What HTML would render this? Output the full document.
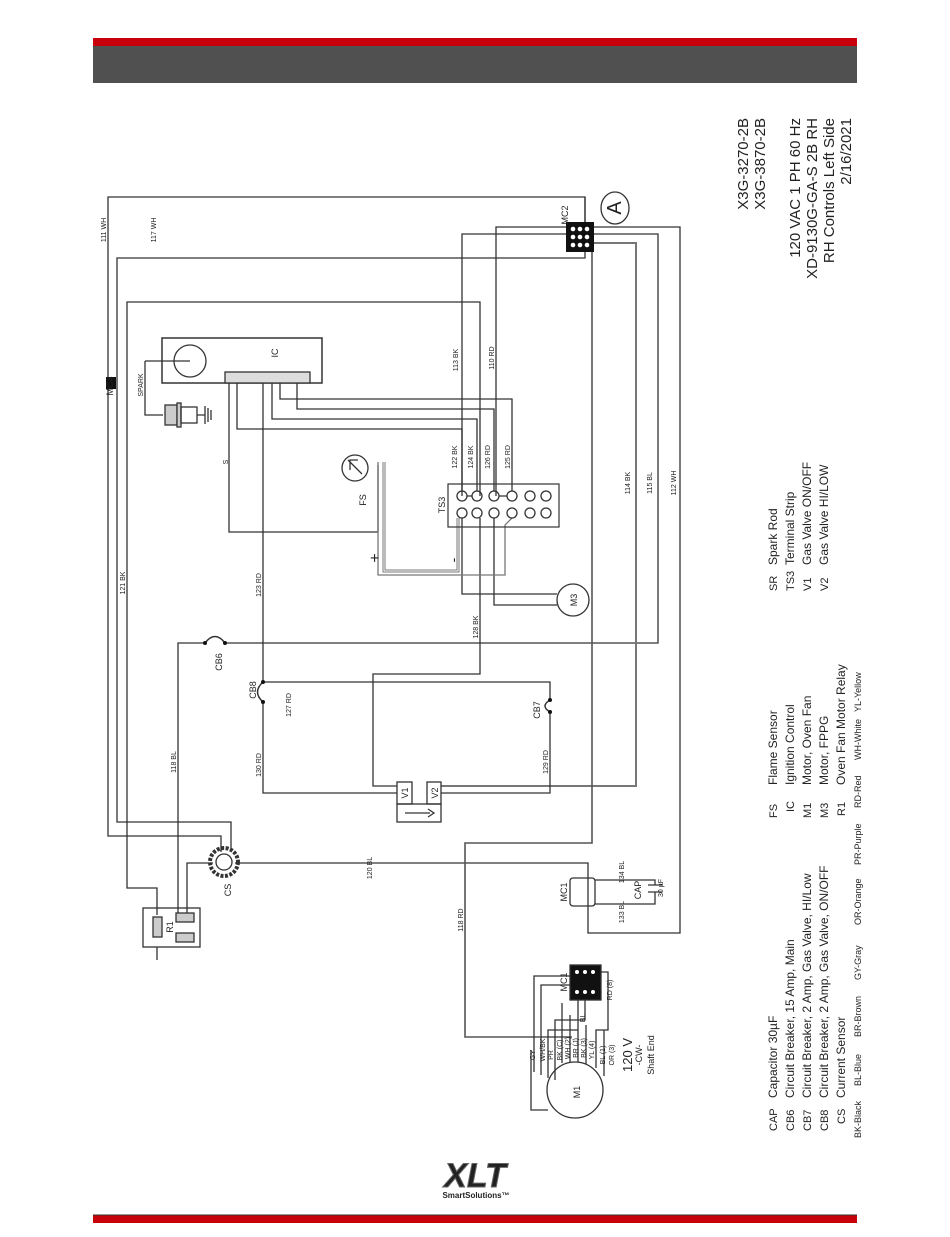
<!DOCTYPE html>
<html><head><meta charset="utf-8"><style>
html,body{margin:0;padding:0;background:#fff}
svg{display:block}
text{font-family:"Liberation Sans",sans-serif;fill:#222}
.s{font-size:7px}
.m{font-size:12px}
.a{font-size:11px}
.t{font-size:15px}
</style></head><body>
<svg width="950" height="1237" viewBox="0 0 950 1237" xmlns="http://www.w3.org/2000/svg">
<rect x="93" y="38" width="764" height="9" fill="#c8000a"/>
<rect x="93" y="46" width="764" height="37" fill="#505050"/>
<rect x="93" y="1215" width="764" height="8" fill="#c8000a"/>
<line x1="93" y1="1215" x2="857" y2="1215" stroke="#333" stroke-width="1"/>

<g fill="none" stroke="#333" stroke-width="1.3">
<path d="M585 222 V197 H108 V836 H221 V852"/>
<path d="M585 197 V258 H117 V822 H231 V852"/>
<path d="M480 496 V302 H127 V888 H157 V915"/>
<path d="M566 227 H496 V496"/>
<path d="M594 227 H680 V933 H588 V863 H235"/>
<path d="M566 234 H462 V496"/>
<path d="M594 234 H658 V643 H225"/>
<path d="M594 243 H636 V786 H441" stroke="#777" stroke-width="2"/>
<path d="M592 252 V843 H465 V1037 H572" stroke="#555" stroke-width="1.6"/>
<path d="M205 643 H178 V915"/>
<path d="M213 863 H187 V915"/>
<path d="M280 383 V399 H512 V491"/>
<path d="M297 383 V409 H494 V491"/>
<path d="M272 383 V419 H477 V491"/>
<path d="M237 383 V429 H462 V491"/>
<path d="M229 383 V532 H378 V465"/>
<path d="M263 383 V682 M263 702 V793 H397"/>
<path d="M263 682 H550 V700 M550 712 V793 H441"/>
<path d="M480 518 V674 H373 V786 H397"/>
<path d="M462 518 V594 H557"/>
<path d="M494 518 V605 H557"/>
<path d="M384 462 V571 H458 V518" stroke="#777" stroke-width="3"/>
<path d="M384 462 V571 H458 V518" stroke="#fff" stroke-width="1"/>
<path d="M378 462 V575 H505 V525 L512 518" stroke="#777" stroke-width="1.3"/>
<rect x="162" y="338" width="160" height="45" stroke-width="1.5"/>
<circle cx="190" cy="361" r="16"/>
<line x1="190" y1="361" x2="145" y2="361"/>
<path d="M145 361 V415 H163"/>
<rect x="165" y="405" width="12" height="20" fill="#ccc"/>
<rect x="177" y="403" width="4" height="24" fill="#ccc"/>
<rect x="181" y="407" width="16" height="16"/>
<path d="M197 415 H205 M205 406 V424 M208 408 V422 M211 410 V420"/>
<rect x="225" y="372" width="85" height="11" fill="#ddd"/>
<rect x="448" y="484" width="111" height="43" stroke-width="1.2"/>
<circle cx="462" cy="496" r="5"/><circle cx="477" cy="496" r="5"/><circle cx="494" cy="496" r="5"/><circle cx="512" cy="496" r="5"/><circle cx="530" cy="496" r="5"/><circle cx="546" cy="496" r="5"/>
<circle cx="462" cy="513" r="5"/><circle cx="477" cy="513" r="5"/><circle cx="494" cy="513" r="5"/><circle cx="512" cy="513" r="5"/><circle cx="530" cy="513" r="5"/><circle cx="546" cy="513" r="5"/>
<path d="M467 496 H472 M499 496 H507"/>
<circle cx="355" cy="468" r="13"/>
<path d="M348 460 L362 474 M350 470 L350 460 L358 460"/>
<circle cx="573" cy="600" r="16"/>
<path d="M205 643 Q215 630 225 643" stroke-width="1.5"/>
<path d="M263 682 Q252 692 263 702" stroke-width="1.5"/>
<path d="M550 700 Q540 706 550 712" stroke-width="1.5"/>
<rect x="397" y="782" width="15" height="22"/>
<rect x="427" y="782" width="14" height="22"/>
<rect x="397" y="804" width="44" height="18"/>
<path d="M405 813 H430 M428 809 L434 813 L428 817"/>
<circle cx="224" cy="862" r="14" stroke-width="4" stroke-dasharray="3 1.5"/>
<circle cx="224" cy="862" r="8"/>
<rect x="143" y="908" width="57" height="39"/>
<rect x="153" y="917" width="9" height="20" fill="#ccc"/>
<rect x="176" y="913" width="18" height="9" fill="#ccc"/>
<rect x="176" y="933" width="18" height="9" fill="#ccc"/>
<path d="M157 947 V960"/>
<rect x="570" y="878" width="25" height="28" rx="3"/>
<path d="M595 880 H655 V885 M595 904 H655 V892 M648 885 H662 M648 892 H662"/>
<circle cx="575" cy="1090" r="28"/>
<rect x="570" y="965" width="31" height="35" fill="#111"/>
<path d="M534 1072 V976 H570 M541 1075 V985 H570 M548 1078 V1030 H578 V1000 M555 1080 V1020 H585 V1000 M562 1063 V1003 M570 1062 V1015 M578 1062 V1015 M586 1064 V1025 M596 1068 V1030 H608 V972 H601 M604 1076 V1030 M548 1110 H531 V1050"/>
</g>
<g fill="#111"><circle cx="205" cy="643" r="2"/><circle cx="225" cy="643" r="2"/><circle cx="263" cy="682" r="2"/><circle cx="263" cy="702" r="2"/><circle cx="550" cy="700" r="2"/><circle cx="550" cy="712" r="2"/></g>
<rect x="566" y="222" width="28" height="30" fill="#111"/>
<g fill="#fff"><circle cx="573" cy="229" r="2.3"/><circle cx="580" cy="229" r="2.3"/><circle cx="587" cy="229" r="2.3"/><circle cx="573" cy="237" r="2.3"/><circle cx="580" cy="237" r="2.3"/><circle cx="587" cy="237" r="2.3"/><circle cx="573" cy="245" r="2.3"/><circle cx="580" cy="245" r="2.3"/><circle cx="587" cy="245" r="2.3"/>
<circle cx="577" cy="972" r="2"/><circle cx="585" cy="972" r="2"/><circle cx="593" cy="972" r="2"/><circle cx="577" cy="992" r="2"/><circle cx="585" cy="992" r="2"/><circle cx="593" cy="992" r="2"/></g>
<rect x="106" y="377" width="10" height="12" fill="#111"/>
<ellipse cx="615" cy="208" rx="14" ry="16" fill="none" stroke="#333" stroke-width="1.3"/>
<text transform="translate(621 208) rotate(-90)" text-anchor="middle" font-size="20">A</text>

<g class="s">
<text transform="translate(106 230) rotate(-90)" text-anchor="middle">111 WH</text>
<text transform="translate(156 230) rotate(-90)" text-anchor="middle">117 WH</text>
<text transform="translate(125 583) rotate(-90)" text-anchor="middle">121 BK</text>
<text transform="translate(176 762) rotate(-90)" text-anchor="middle">118 BL</text>
<text transform="translate(261 585) rotate(-90)" text-anchor="middle">123 RD</text>
<text transform="translate(291 705) rotate(-90)" text-anchor="middle">127 RD</text>
<text transform="translate(261 765) rotate(-90)" text-anchor="middle">130 RD</text>
<text transform="translate(478 627) rotate(-90)" text-anchor="middle">128 BK</text>
<text transform="translate(548 762) rotate(-90)" text-anchor="middle">129 RD</text>
<text transform="translate(372 868) rotate(-90)" text-anchor="middle">120 BL</text>
<text transform="translate(463 920) rotate(-90)" text-anchor="middle">118 RD</text>
<text transform="translate(458 360) rotate(-90)" text-anchor="middle">113 BK</text>
<text transform="translate(494 358) rotate(-90)" text-anchor="middle">110 RD</text>
<text transform="translate(457 457) rotate(-90)" text-anchor="middle">122 BK</text>
<text transform="translate(473 457) rotate(-90)" text-anchor="middle">124 BK</text>
<text transform="translate(490 457) rotate(-90)" text-anchor="middle">126 RD</text>
<text transform="translate(510 457) rotate(-90)" text-anchor="middle">125 RD</text>
<text transform="translate(630 483) rotate(-90)" text-anchor="middle">114 BK</text>
<text transform="translate(652 483) rotate(-90)" text-anchor="middle">115 BL</text>
<text transform="translate(676 483) rotate(-90)" text-anchor="middle">112 WH</text>
<text transform="translate(143 385) rotate(-90)" text-anchor="middle">SPARK</text>
<text transform="translate(228 462) rotate(-90)" text-anchor="middle">S</text>
<text transform="translate(624 872) rotate(-90)" text-anchor="middle">134 BL</text>
<text transform="translate(624 912) rotate(-90)" text-anchor="middle">133 BL</text>
<text transform="translate(663 888) rotate(-90)" text-anchor="middle">30 µF</text>
<text transform="translate(535 1055) rotate(-90)" text-anchor="middle">GY</text>
<text transform="translate(545 1050) rotate(-90)" text-anchor="middle">WH/BK</text>
<text transform="translate(553 1055) rotate(-90)" text-anchor="middle">PR</text>
<text transform="translate(562 1050) rotate(-90)" text-anchor="middle">BK (C)</text>
<text transform="translate(570 1048) rotate(-90)" text-anchor="middle">WH (2)</text>
<text transform="translate(578 1048) rotate(-90)" text-anchor="middle">BR (J)</text>
<text transform="translate(586 1048) rotate(-90)" text-anchor="middle">BK (3)</text>
<text transform="translate(594 1050) rotate(-90)" text-anchor="middle">YL (4)</text>
<text transform="translate(605 1055) rotate(-90)" text-anchor="middle">BL (1)</text>
<text transform="translate(614 1055) rotate(-90)" text-anchor="middle">OR (3)</text>
<text transform="translate(612 990) rotate(-90)" text-anchor="middle">RD (8)</text>
<text transform="translate(585 1018) rotate(-90)" text-anchor="middle">BL</text>
</g>
<g font-size="9">
<text transform="translate(113 386) rotate(-90)" text-anchor="middle">MC4</text>
<text transform="translate(278 353) rotate(-90)" text-anchor="middle">IC</text>
<text transform="translate(366 500) rotate(-90)" text-anchor="middle">FS</text>
<text transform="translate(445 505) rotate(-90)" text-anchor="middle">TS3</text>
<text transform="translate(577 600) rotate(-90)" text-anchor="middle">M3</text>
<text transform="translate(222 662) rotate(-90)" text-anchor="middle">CB6</text>
<text transform="translate(256 690) rotate(-90)" text-anchor="middle">CB8</text>
<text transform="translate(540 710) rotate(-90)" text-anchor="middle">CB7</text>
<text transform="translate(408 793) rotate(-90)" text-anchor="middle">V1</text>
<text transform="translate(438 793) rotate(-90)" text-anchor="middle">V2</text>
<text transform="translate(231 890) rotate(-90)" text-anchor="middle">CS</text>
<text transform="translate(173 927) rotate(-90)" text-anchor="middle">R1</text>
<text transform="translate(568 215) rotate(-90)" text-anchor="middle">MC2</text>
<text transform="translate(567 892) rotate(-90)" text-anchor="middle">MC1</text>
<text transform="translate(641 890) rotate(-90)" text-anchor="middle">CAP</text>
<text transform="translate(567 982) rotate(-90)" text-anchor="middle">MC1</text>
<text transform="translate(580 1092) rotate(-90)" text-anchor="middle">M1</text>
<text transform="translate(642 1055) rotate(-90)" text-anchor="middle">-CW-</text>
<text transform="translate(654 1055) rotate(-90)" text-anchor="middle">Shaft End</text>
</g>
<text transform="translate(632 1055) rotate(-90)" text-anchor="middle" font-size="13">120 V</text>
<text transform="translate(380 558) rotate(-90)" text-anchor="middle" font-size="16">+</text>
<text transform="translate(458 560) rotate(-90)" text-anchor="middle" font-size="14">-</text>

<g class="t" text-anchor="end">
<text transform="translate(748 118) rotate(-90)">X3G-3270-2B</text>
<text transform="translate(765 118) rotate(-90)">X3G-3870-2B</text>
<text transform="translate(800 118) rotate(-90)">120 VAC 1 PH 60 Hz</text>
<text transform="translate(817 118) rotate(-90)">XD-9130G-GA-S 2B RH</text>
<text transform="translate(834 118) rotate(-90)">RH Controls Left Side</text>
<text transform="translate(851 118) rotate(-90)">2/16/2021</text>
</g>
<g class="a">
<text transform="translate(777 1131) rotate(-90)">CAP</text>
<text transform="translate(794 1131) rotate(-90)">CB6</text>
<text transform="translate(811 1131) rotate(-90)">CB7</text>
<text transform="translate(828 1131) rotate(-90)">CB8</text>
<text transform="translate(845 1124) rotate(-90)">CS</text>
<text transform="translate(777 818) rotate(-90)">FS</text>
<text transform="translate(794 812) rotate(-90)">IC</text>
<text transform="translate(811 818) rotate(-90)">M1</text>
<text transform="translate(828 818) rotate(-90)">M3</text>
<text transform="translate(845 816) rotate(-90)">R1</text>
<text transform="translate(777 591) rotate(-90)">SR</text>
<text transform="translate(794 591) rotate(-90)">TS3</text>
<text transform="translate(811 591) rotate(-90)">V1</text>
<text transform="translate(828 591) rotate(-90)">V2</text>
</g>
<g class="m">
<text transform="translate(777 1098) rotate(-90)">Capacitor 30µF</text>
<text transform="translate(794 1098) rotate(-90)">Circuit Breaker, 15 Amp, Main</text>
<text transform="translate(811 1098) rotate(-90)">Circuit Breaker, 2 Amp, Gas Valve, HI/Low</text>
<text transform="translate(828 1098) rotate(-90)">Circuit Breaker, 2 Amp, Gas Valve, ON/OFF</text>
<text transform="translate(845 1098) rotate(-90)">Current Sensor</text>
<text transform="translate(777 785) rotate(-90)">Flame Sensor</text>
<text transform="translate(794 785) rotate(-90)">Ignition Control</text>
<text transform="translate(811 785) rotate(-90)">Motor, Oven Fan</text>
<text transform="translate(828 785) rotate(-90)">Motor, FPPG</text>
<text transform="translate(845 785) rotate(-90)">Oven Fan Motor Relay</text>
<text transform="translate(777 565) rotate(-90)">Spark Rod</text>
<text transform="translate(794 565) rotate(-90)">Terminal Strip</text>
<text transform="translate(811 565) rotate(-90)">Gas Valve ON/OFF</text>
<text transform="translate(828 565) rotate(-90)">Gas Valve HI/LOW</text>
</g>
<g font-size="9">
<text transform="translate(861 1138) rotate(-90)">BK-Black</text>
<text transform="translate(861 1086) rotate(-90)">BL-Blue</text>
<text transform="translate(861 1037) rotate(-90)">BR-Brown</text>
<text transform="translate(861 980) rotate(-90)">GY-Gray</text>
<text transform="translate(861 925) rotate(-90)">OR-Orange</text>
<text transform="translate(861 865) rotate(-90)">PR-Purple</text>
<text transform="translate(861 808) rotate(-90)">RD-Red</text>
<text transform="translate(861 760) rotate(-90)">WH-White</text>
<text transform="translate(861 712) rotate(-90)">YL-Yellow</text>
</g>
<text x="475" y="1187" text-anchor="middle" font-size="34" font-weight="bold" fill="#b0182a" stroke="#666" stroke-width="1" font-style="italic">XLT</text>
<text x="476" y="1198" text-anchor="middle" font-size="8" font-weight="bold" fill="#444">SmartSolutions™</text>
</svg>
</body></html>
